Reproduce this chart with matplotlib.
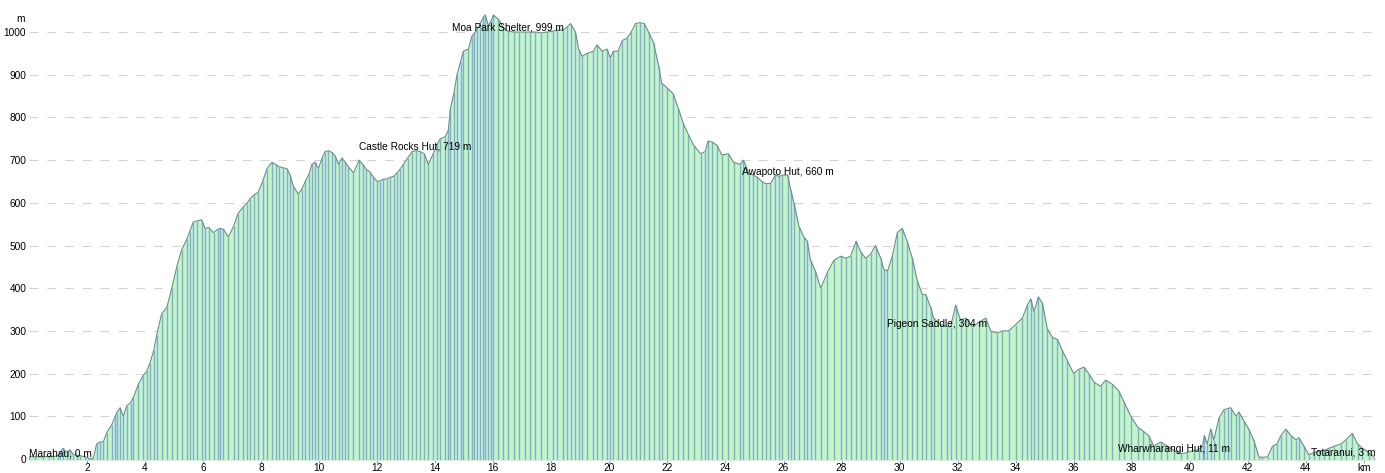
import numpy as np
import matplotlib
matplotlib.use("Agg")
import matplotlib.pyplot as plt

# distance (km) and elevation (m)
dist = [0.0, 0.2, 0.48, 0.7, 0.83, 1.0, 1.07, 1.18, 1.3, 1.41, 1.53, 1.65, 1.76, 1.93, 2.03, 2.1, 2.17, 2.22,
        2.33, 2.45, 2.56, 2.68, 2.85, 2.97, 3.02, 3.14, 3.25, 3.37, 3.5, 3.6, 3.77, 3.93, 4.05, 4.17, 4.3, 4.4,
        4.57, 4.75, 4.92, 5.09, 5.26, 5.44, 5.55, 5.66, 5.8, 5.95, 6.07, 6.2, 6.36, 6.5, 6.59, 6.7, 6.87, 7.05,
        7.2, 7.38, 7.5, 7.62, 7.75, 7.9, 8.05, 8.2, 8.37, 8.5, 8.6, 8.75, 8.89, 9.0, 9.1, 9.28, 9.4, 9.52, 9.65,
        9.75, 9.86, 9.97, 10.1, 10.2, 10.32, 10.44, 10.55, 10.67, 10.78, 10.9, 11.0, 11.18, 11.38, 11.5, 11.6,
        11.75, 11.87, 12.0, 12.1, 12.2, 12.33, 12.45, 12.57, 12.68, 12.8, 12.9, 13.05, 13.2, 13.35, 13.48,
        13.62, 13.76, 13.93, 14.05, 14.17, 14.34, 14.45, 14.52, 14.65, 14.75, 14.87, 14.97, 15.14, 15.26,
        15.35, 15.44, 15.55, 15.66, 15.72, 15.83, 15.92, 16.0, 16.17, 16.35, 16.5, 16.7, 16.9, 17.1, 17.28,
        17.45, 17.65, 17.85, 18.05, 18.2, 18.4, 18.55, 18.66, 18.83, 18.94, 19.06, 19.23, 19.45, 19.57,
        19.75, 19.92, 20.03, 20.14, 20.3, 20.44, 20.6, 20.75, 20.9, 21.05, 21.2, 21.35, 21.52, 21.7, 21.8,
        21.98, 22.2, 22.38, 22.55, 22.72, 22.9, 23.14, 23.3, 23.4, 23.55, 23.7, 23.88, 24.1, 24.28, 24.5,
        24.62, 24.8, 24.95, 25.1, 25.25, 25.38, 25.55, 25.72, 25.85, 25.96, 26.14, 26.25, 26.36, 26.53, 26.7,
        26.82, 26.93, 27.1, 27.28, 27.5, 27.73, 27.97, 28.14, 28.31, 28.5, 28.66, 28.83, 29.0, 29.17, 29.35,
        29.45, 29.58, 29.75, 29.92, 30.09, 30.26, 30.44, 30.6, 30.78, 30.9, 31.07, 31.17, 31.41, 31.64,
        31.76, 31.93, 32.1, 32.28, 32.5, 32.73, 32.97, 33.14, 33.37, 33.54, 33.76, 34.0, 34.23, 34.4, 34.52,
        34.63, 34.78, 34.92, 35.09, 35.26, 35.44, 35.6, 35.78, 36.0, 36.17, 36.35, 36.52, 36.7, 36.93, 37.1,
        37.33, 37.55, 37.72, 37.97, 38.2, 38.4, 38.58, 38.76, 39.0, 39.23, 39.45, 39.7, 39.9, 40.14, 40.3,
        40.44, 40.5, 40.6, 40.72, 40.83, 41.0, 41.17, 41.3, 41.41, 41.59, 41.69, 41.86, 42.03, 42.2, 42.38,
        42.5, 42.68, 42.85, 43.0, 43.14, 43.31, 43.48, 43.66, 43.76, 43.93, 44.1, 44.28, 44.45, 44.62, 44.8,
        44.97, 45.2, 45.38, 45.6, 45.78, 45.95, 46.17, 46.34]
elev = [5, 5, 5, 6, 5, 8, 15, 25, 15, 22, 10, 9, 8, 5, 3, 0, 1, 3,
        35, 40, 40, 62, 80, 100, 108, 120, 100, 125, 132, 145, 175, 195, 205, 225, 255, 290,
        340, 355, 400, 450, 490, 515, 535, 555, 558, 560, 540, 542, 530, 538, 540, 538, 520, 545,
        575, 590, 598, 610, 618, 625, 650, 680, 695, 690, 685, 682, 680, 665, 640, 620, 632, 650, 668,
        690, 695, 680, 705, 720, 722, 718, 710, 690, 705, 695, 685, 670, 700, 690, 680,
        672, 660, 650, 652, 655, 656, 660, 662, 670, 680, 690, 705, 720, 722, 720,
        715, 690, 715, 735, 750, 755, 770, 820, 860, 900, 930, 955, 960, 990,
        998, 1005, 1020, 1035, 1040, 1015, 1025, 1040, 1030, 1010, 1002, 1000, 1000, 1000, 1000,
        1000, 998, 1000, 1002, 1004, 1005, 1012, 1020, 1000, 960, 943, 950, 955, 970,
        955, 960, 940, 955, 955, 980, 985, 1000, 1020, 1022, 1020, 1000, 975, 920, 880,
        870, 855, 820, 785, 760, 735, 715, 720, 745, 742, 735, 712, 715, 695, 690,
        700, 670, 665, 660, 650, 645, 645, 665, 662, 665, 665, 630, 600, 545, 520,
        510, 465, 440, 400, 435, 465, 475, 470, 475, 510, 485, 470, 480, 500, 470,
        445, 440, 475, 530, 540, 510, 470, 420, 385, 385, 355, 330, 315, 310,
        310, 360, 325, 330, 310, 320, 330, 300, 295, 300, 300, 315, 330, 360, 375,
        345, 380, 365, 305, 285, 280, 255, 230, 200, 210, 215, 200, 180, 170, 185,
        175, 160, 135, 100, 75, 65, 55, 30, 40, 30, 20, 12, 15, 20, 22,
        30, 55, 35, 70, 45, 95, 115, 118, 120, 100, 110, 90, 70, 45, 5,
        4, 5, 30, 35, 55, 70, 55, 45, 50, 30, 10, 15, 18, 20, 25,
        30, 35, 45, 60, 35, 25, 15, 5]

places = ["Marahau, 0 m", "Castle Rocks Hut, 719 m", "Moa Park Shelter, 999 m", "Awapoto Hut, 660 m",
          "Pigeon Saddle, 304 m", "Wharwharangi Hut, 11 m", "Totaranui, 3 m"]
place_km = [0.0, 13.3, 16.5, 26.15, 31.3, 39.47, 46.4]
place_m = [0, 719, 999, 660, 304, 11, 3]
place_ha = ["left", "center", "center", "center", "center", "center", "right"]

xticks = [2, 4, 6, 8, 10, 12, 14, 16, 18, 20, 22, 24, 26, 28, 30, 32, 34, 36, 38, 40, 42, 44, 46]
xticklabels = [str(t) for t in xticks[:-1]] + ["km"]
yticks = [0, 100, 200, 300, 400, 500, 600, 700, 800, 900, 1000]

plt.rcParams['font.family'] = ['Liberation Sans', 'DejaVu Sans']
fs = 7.3

fig = plt.figure(figsize=(13.85, 4.73), dpi=100)
ax = fig.add_axes([29 / 1385, 13 / 473, 1348 / 1385, 454 / 473])

d = np.array(dist)
e = np.array(elev)

ax.fill_between(d, -3, e, color='#c3f7c1', zorder=1, linewidth=0)
ax.vlines(d, -3, e, color='#6f8fe6', linewidth=1.0, alpha=0.75, zorder=2)
ax.plot(d, e, color='#6e8a8c', linewidth=0.8, zorder=3)

for lab, x, y, ha in zip(places, place_km, place_m, place_ha):
    ax.text(x, y + 1, lab, ha=ha, va='bottom', fontsize=fs, color='black', zorder=5)

ax.set_xlim(0, 46.45)
ax.set_ylim(-2.3, 1061)
ax.set_xticks(xticks)
ax.set_xticklabels(xticklabels)
ax.set_yticks(yticks)
ax.grid(axis='y', color='#d4d4d4', linestyle=(0, (8, 8)), linewidth=0.8, zorder=0)
ax.set_axisbelow(True)
for s in ax.spines.values():
    s.set_visible(False)
ax.tick_params(axis='x', labelsize=fs, colors='#8fa3d8', labelcolor='black', length=2, width=0.8, pad=0)
ax.tick_params(axis='y', labelsize=fs, labelcolor='black', length=0, pad=2)
ax.text(-0.003, 1020, 'm', transform=ax.get_yaxis_transform(), ha='right', va='bottom', fontsize=fs)

fig.savefig('out.png', dpi=100)
